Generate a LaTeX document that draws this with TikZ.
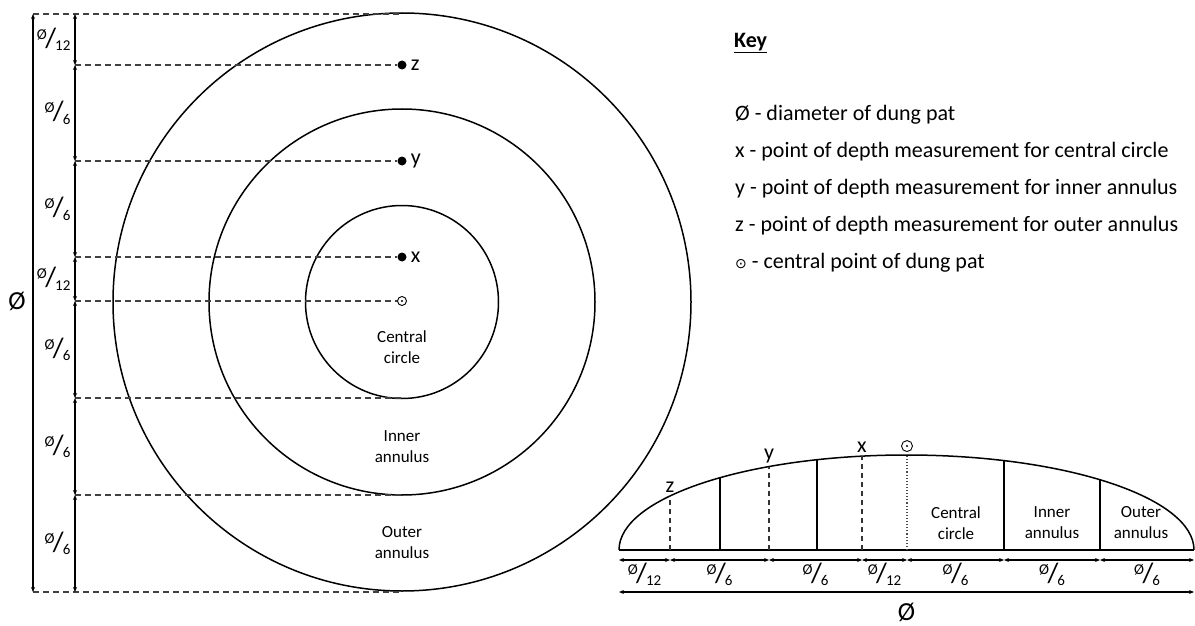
\documentclass[tikz,border=0pt]{standalone}
\usepackage{fontspec}
\setmainfont{Carlito}
\newfontfamily\symfont{DejaVu Sans}
\usetikzlibrary{arrows.meta,positioning}
\newcommand{\frc}[1]{\raisebox{8pt}{\fontsize{15}{15}\selectfont Ø}\kern-1.5pt{\fontsize{28}{28}\selectfont/}\kern-1pt\raisebox{-3.5pt}{\fontsize{15}{15}\selectfont #1}}
\begin{document}
\begin{tikzpicture}[x=1pt, y=-1pt, >={Stealth[length=5pt,width=4pt]}]
    \tikzstyle{ring}=[line width=1.5pt]
    \tikzstyle{guide}=[draw=black!75, line width=1.2pt, dash pattern=on 6pt off 4pt]
    \tikzstyle{cut}=[draw=black!80, line width=1.2pt, dash pattern=on 5pt off 4pt]
    \tikzstyle{wall}=[line width=1.4pt]
    \tikzstyle{axis}=[draw=black!70, line width=1.1pt, dotted]
    \tikzstyle{dim}=[<->, line width=1.2pt]
    \tikzstyle{pt}=[circle, fill, inner sep=0pt, minimum size=9pt]
    \tikzstyle{ctr}=[circle, draw, line width=0.9pt, inner sep=0pt, minimum size=9pt, path picture={\fill (path picture bounding box.center) circle (1.1pt);}]
    \tikzstyle{ptlabel}=[inner sep=0pt, font=\fontsize{22}{22}\selectfont]
    \tikzstyle{area}=[align=center, font=\fontsize{17}{21}\selectfont]
    \tikzstyle{frac}=[inner sep=0pt]
    \tikzstyle{keyline}=[anchor=west, inner sep=0pt, font=\fontsize{22}{24}\selectfont]

    \useasboundingbox (0,0) rectangle (1195,626);

    % plan view
    \coordinate (o) at (402,302);
    \draw[ring] (o) circle[radius=289] (o) circle[radius=193] (o) circle[radius=96.5];

    \node[pt] (z) at (402,65) {};
    \node[pt] (y) at (402,161) {};
    \node[pt] (x) at (402,257) {};
    \node[ctr] (c) at (402,301) {};
    \node[ptlabel, right=4pt of z] (zl) {z};
    \node[ptlabel, right=4pt of y] (yl) {y};
    \node[ptlabel, right=4pt of x] (xl) {x};

    \coordinate (top) at (402,14);
    \coordinate (cb) at (402,398);
    \coordinate (ib) at (402,495);
    \coordinate (bot) at (402,592);
    \coordinate (D0) at (33,14);
    \coordinate (D1) at (33,592);
    \foreach \n/\v in {0/14,1/65,2/161,3/257,4/301,5/398,6/495,7/592}
        \coordinate (d\n) at (75,\v);

    \draw[guide] (D0) -- (top);
    \draw[guide] (d1) -- (z);
    \draw[guide] (d2) -- (y);
    \draw[guide] (d3) -- (x);
    \draw[guide] (d4) -- (c);
    \draw[guide] (d5) -- (cb);
    \draw[guide] (d6) -- (ib);
    \draw[guide] (D1) -- (bot);

    \draw[dim] (D0) -- (D1);
    \foreach \a/\b/\f in {0/1/12,1/2/6,2/3/6,3/4/12,4/5/6,5/6/6,6/7/6}
        \draw[dim] (d\a) -- (d\b) node[midway, left=4pt, frac] {\frc{\f}};
    \node[font=\fontsize{26}{26}\selectfont] (dia) at (17,301) {Ø};

    \node[area] (cc) at (402,347) {Central\\circle};
    \node[area] (ia) at (402,447) {Inner\\annulus};
    \node[area] (oa) at (402,543) {Outer\\annulus};

    % cross section
    \coordinate (sl) at (619,550);
    \coordinate (sr) at (1194,550);
    \draw[ring] (sl) arc[start angle=180, end angle=360, x radius=287.5, y radius=95];
    \draw[line width=2.2pt] (sl) -- (sr);
    \foreach \n/\u/\s in {z/670/cut,a/720/wall,y/769/cut,b/817/wall,x/862/cut,c/907/axis,d/1004/wall,e/1100/wall} {
        \pgfmathsetmacro\h{95*sqrt(1-((\u-906.5)/287.5)^2)}
        \coordinate (t\n) at (\u,550-\h);
        \coordinate (b\n) at (\u,550);
        \draw[\s] (b\n) -- (t\n);
    }
    \node[ptlabel, above=3pt of tz] (szl) {z};
    \node[ptlabel, above=3pt of ty] (syl) {y};
    \node[ptlabel, above=3pt of tx] (sxl) {x};
    \node[ctr, minimum size=11pt, above=3pt of tc] (sc) {};

    \node[area] (scc) at (956,523) {Central\\circle};
    \node[area] (sia) at (1052,523) {Inner\\annulus};
    \node[area] (soa) at (1141,523) {Outer\\annulus};

    \foreach \n/\u in {0/619,1/670,2/769,3/862,4/907,5/1004,6/1100,7/1194}
        \coordinate (m\n) at (\u,560);
    \foreach \a/\b/\f in {0/1/12,1/2/6,2/3/6,3/4/12,4/5/6,5/6/6,6/7/6}
        \draw[dim] (m\a) -- (m\b) node[midway, below=2pt, frac] {\frc{\f}};
    \coordinate (n0) at (619,592);
    \coordinate (n1) at (1194,592);
    \draw[dim] (n0) -- (n1) node[midway, below=7pt, font=\fontsize{26}{26}\selectfont] (sdia) {Ø};

    % key
    \node[keyline, font=\fontsize{22}{24}\selectfont\bfseries] (key) at (734,43) {\underline{Key}};
    \node[keyline] (k1) at (735,115) {Ø - diameter of dung pat};
    \node[keyline] (k2) at (735,152) {x - point of depth measurement for central circle};
    \node[keyline] (k3) at (735,189) {y - point of depth measurement for inner annulus};
    \node[keyline] (k4) at (735,226) {z - point of depth measurement for outer annulus};
    \node[keyline] (k5) at (735,263) {{\symfont\fontsize{14}{14}\selectfont ⊙} - central point of dung pat};
\end{tikzpicture}
\end{document}
